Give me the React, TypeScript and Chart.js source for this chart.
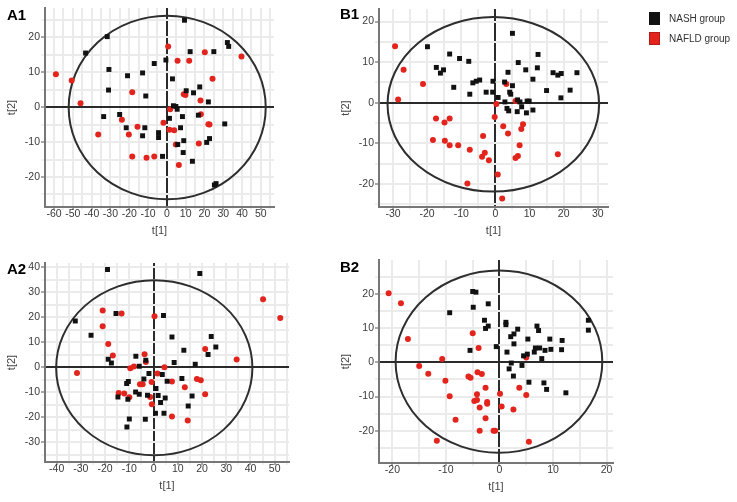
import React, { useEffect, useRef } from 'react';
import { Chart, registerables } from 'chart.js';

Chart.register(...registerables);

const FONT = "'Liberation Sans', Arial, sans-serif";
Chart.defaults.font.family = FONT;

type Pt = [number, number];

// ---------- Panel A1 ----------
const a1Nash: Pt[] = [
  [9.4, 24.9], [-31.7, 20.2], [-43.2, 15.5], [32.2, 18.5], [32.9, 17.4], [12.4, 15.9], [25, 15.9],
  [-0.5, 13.5], [-6.7, 12.5], [-30.8, 10.8], [-20.9, 9.0], [-12.9, 9.8], [3.0, 8.1], [-31, 4.9],
  [-11.2, 3.2], [17.5, 5.8], [10.3, 4.7], [14.2, 4.1], [22.1, 1.5], [3.5, 0.4], [4.8, 0.2],
  [5.5, -0.6], [1.4, -3.2], [8.3, -2.7], [16.8, -2.3], [30.8, -4.8], [-33.6, -2.7], [-25.1, -2.1],
  [-21.6, -5.9], [-11.7, -5.9], [-4.4, -7.3], [-4.4, -8.7], [-12.9, -8.2], [7.3, -5.9], [9.0, -9.6],
  [22.7, -9.0], [21.2, -10.1], [5.8, -10.7], [8.7, -13.0], [-2.3, -14.1], [13.6, -15.5], [26.2, -21.9],
  [25.3, -22.3],
];
const a1Nafld: Pt[] = [
  [-59, 9.4], [-50.6, 7.6], [-45.9, 1.1], [0.7, 17.4], [5.7, 13.3], [11.9, 13.3], [20.2, 15.7],
  [39.7, 14.5], [24.3, 8.1], [-18.4, 4.3], [9.0, 3.7], [9.9, 3.5], [17.9, 1.9], [18.1, -2.0],
  [1.8, -0.6], [-23.9, -3.6], [-15.6, -5.6], [-20.2, -7.8], [-36.5, -7.8], [-1.8, -4.5], [1.4, -6.5],
  [3.9, -6.6], [22.1, -4.9], [22.7, -5.0], [4.8, -10.7], [17.0, -10.4], [-18.4, -14.1], [-10.8, -14.5],
  [-6.7, -14.1], [6.4, -16.6],
];
const a1XRange = [-64.8, 57];
const a1YRange = [-28.6, 28.4];
const a1Ellipse = [0.2, -0.1, 52.4, 26.3];

// ---------- Panel B1 ----------
const b1Nash: Pt[] = [
  [5.0, 17.1], [-19.9, 13.8], [-13.4, 12.0], [-10.5, 10.9], [-7.8, 10.2], [-17.3, 8.7], [-16.1, 7.3],
  [-15.2, 8.1], [12.5, 11.9], [6.7, 9.9], [8.9, 8.1], [12.3, 8.6], [3.7, 7.5], [16.9, 7.4], [18.3, 6.8],
  [19.3, 7.2], [23.9, 7.4], [11.0, 5.8], [-6.6, 4.9], [-5.6, 5.3], [-4.6, 5.6], [-0.7, 5.3], [-12.2, 3.8],
  [-7.5, 2.1], [-2.7, 2.6], [-0.8, 2.6], [2.7, 5.1], [5.0, 4.2], [4.2, 2.6], [4.5, 2.1], [0.8, 1.3],
  [15.0, 3.0], [21.9, 3.1], [19.2, 1.2], [2.8, 0.2], [3.4, -1.4], [3.9, -2.0], [6.5, 0.7], [7.2, 0.2],
  [6.4, -2.2], [7.7, -1.0], [9.3, 0.4], [9.9, 0.4], [9.1, -2.5], [11.0, -1.8],
];
const b1Nafld: Pt[] = [
  [-29.4, 13.9], [-26.9, 8.1], [-21.2, 4.6], [-28.5, 0.8], [3.2, 4.6], [5.9, 0.4], [0.3, -0.3],
  [-0.2, -3.5], [-17.4, -3.9], [-14.9, -4.9], [-13.4, -3.9], [-18.3, -9.2], [-14.8, -9.4], [-13.4, -10.5],
  [-10.9, -10.5], [-7.5, -11.6], [-3.6, -8.2], [-3.1, -12.3], [-3.9, -13.3], [-1.9, -14.2], [2.3, -5.8],
  [3.7, -7.6], [8.1, -5.3], [7.6, -6.5], [7.1, -10.5], [6.6, -13.1], [5.9, -13.6], [18.3, -12.7],
  [0.7, -17.7], [-8.2, -19.9], [2.0, -23.6],
];
const b1XRange = [-34.1, 33];
const b1YRange = [-25.7, 23.1];
const b1Ellipse = [-0.6, -0.4, 31, 21.5];

// ---------- Panel A2 ----------
const a2Nash: Pt[] = [
  [-19.0, 39.1], [19.1, 37.5], [-32.3, 18.5], [-15.5, 21.5], [4.1, 20.7], [-25.8, 12.8], [7.6, 12.1],
  [23.8, 12.3], [25.7, 8.1], [12.5, 6.8], [22.5, 5.1], [-18.7, 3.2], [-17.4, 1.7], [-7.3, 4.4],
  [-5.9, 0.4], [-3.2, 2.8], [8.5, 1.9], [17.2, 1.2], [-1.9, -2.5], [3.6, -2.9], [-11.1, -6.5],
  [-10.4, -5.7], [-4.0, -4.7], [-7.4, -9.9], [-5.9, -10.8], [-2.5, -11.2], [-14.7, -11.9], [-10.6, -12.8],
  [1.0, -8.5], [1.9, -11.3], [4.8, -12.3], [2.9, -14.1], [5.6, -5.6], [11.7, -4.5], [15.9, -11.5],
  [14.3, -15.5], [0.8, -18.4], [4.3, -18.4], [-10.0, -20.7], [-3.4, -20.8], [-11.0, -23.9],
];
const a2Nafld: Pt[] = [
  [45.2, 27.2], [52.3, 19.7], [-21.0, 22.7], [-13.2, 21.5], [0.4, 20.4], [-21.0, 16.4], [-18.7, 9.3],
  [-16.8, 4.7], [-3.7, 5.2], [-3.2, 2.1], [-9.6, -0.4], [-8.1, 0.3], [4.5, 0.0], [21.3, 7.3], [34.3, 3.1],
  [-31.6, -2.3], [-14.4, -10.3], [-12.1, -10.5], [-10.0, -12.0], [-5.6, -6.8], [-4.5, -6.8], [-0.8, -5.9],
  [1.6, -2.5], [-1.4, -11.9], [-0.7, -14.8], [7.6, -5.7], [12.9, -8.0], [17.9, -4.7], [19.5, -5.2],
  [21.3, -10.8], [7.6, -19.7], [14.1, -21.3],
];
const a2XRange = [-44.8, 55.9];
const a2YRange = [-37.9, 41.7];
const a2Ellipse = [0.3, -0.2, 40.5, 35];

// ---------- Panel B2 ----------
const b2Nash: Pt[] = [
  [-5.0, 20.7], [-4.4, 20.5], [-4.9, 16.1], [-2.1, 17.1], [-9.3, 14.5], [-2.8, 12.3], [-2.6, 9.9],
  [-2.1, 10.6], [1.2, 11.7], [1.2, 11.0], [3.4, 9.7], [2.7, 8.3], [2.1, 7.5], [2.7, 5.4], [-0.6, 4.6],
  [1.4, 3.0], [-5.5, 3.5], [7.0, 10.6], [7.3, 9.3], [5.3, 6.8], [4.5, 1.9], [5.2, 2.4], [6.5, 3.0],
  [6.7, 4.2], [7.5, 4.2], [8.5, 3.5], [7.9, 1.1], [9.4, 6.8], [11.7, 6.4], [11.6, 3.7], [9.6, 3.8],
  [16.6, 12.3], [16.6, 9.4], [4.2, -0.9], [1.8, -1.9], [2.2, -0.2], [2.6, -4.0], [5.5, -5.8], [8.3, -6.0],
  [8.8, -7.9], [12.4, -8.9],
];
const b2Nafld: Pt[] = [
  [-20.7, 20.2], [-18.4, 17.3], [-17.1, 6.8], [-10.7, 1.0], [-15.0, -1.1], [-13.3, -3.3], [-10.1, -5.4],
  [-9.3, -9.9], [-8.2, -16.8], [-11.7, -22.9], [-5.0, 8.5], [-3.9, 4.2], [-5.8, -4.1], [-5.4, -4.5],
  [-4.1, -2.9], [-3.3, -3.4], [-2.6, -7.4], [-4.2, -9.3], [-4.7, -11.3], [-4.2, -11.0], [-2.3, -11.6],
  [-2.3, -12.1], [-3.7, -13.2], [-2.6, -16.3], [-3.7, -20.0], [-1.1, -20.0], [-0.8, -20.0], [0.1, -9.2],
  [0.4, -12.9], [2.6, -13.8], [3.7, -7.4], [5.0, -9.5], [5.0, 1.4], [5.5, -23.2],
];
const b2XRange = [-22.5, 21.2];
const b2YRange = [-29.4, 29.9];
const b2Ellipse = [-0.1, 0.2, 19.3, 26.6];

const seriesNames = ['NASH group', 'NAFLD group'];
const seriesColors = ['#111111', '#e3241d'];
const panelLabels = ['A1', 'B1', 'A2', 'B2'];

type Box = { left: number; top: number; width: number; height: number; padTop: number; padRight: number };

const isLabelled = (v: number) => Math.abs(v % 10) < 1e-6;

function Panel(props: {
  nash: Pt[]; nafld: Pt[]; xRange: number[]; yRange: number[]; ellipse: number[]; box: Box;
}) {
  const ref = useRef<HTMLCanvasElement>(null);
  const { nash, nafld, xRange, yRange, ellipse, box } = props;
  useEffect(() => {
    const ellipsePlugin = {
      id: 'ellipseOutline',
      beforeDatasetsDraw(chart: any) {
        const { ctx, chartArea, scales } = chart;
        const xs = scales.x;
        const ys = scales.y;
        const [cx, cy, rx, ry] = ellipse;
        const px = xs.getPixelForValue(cx);
        const py = ys.getPixelForValue(cy);
        const prx = Math.abs(xs.getPixelForValue(cx + rx) - px);
        const pry = Math.abs(ys.getPixelForValue(cy + ry) - py);
        ctx.save();
        ctx.beginPath();
        ctx.rect(chartArea.left, chartArea.top, chartArea.right - chartArea.left, chartArea.bottom - chartArea.top);
        ctx.clip();
        ctx.beginPath();
        ctx.ellipse(px, py, prx, pry, 0, 0, Math.PI * 2);
        ctx.strokeStyle = '#2e2e2e';
        ctx.lineWidth = 2;
        ctx.stroke();
        ctx.restore();
      },
    };
    const gridColor = (c: any) => (c.tick && c.tick.value === 0 ? '#2b2b2b' : '#ebebeb');
    const gridWidth = (c: any) => (c.tick && c.tick.value === 0 ? 2 : 2);
    const tickColor = (c: any) => (c.tick && isLabelled(c.tick.value) ? '#555' : '#e4e4e4');
    const label = (v: any) => (isLabelled(Number(v)) ? String(v) : '');
    const chart = new Chart(ref.current as HTMLCanvasElement, {
      type: 'scatter',
      data: {
        datasets: [
          {
            label: seriesNames[0],
            data: nash.map(([x, y]) => ({ x, y })),
            pointStyle: 'rect',
            pointRadius: 3.5,
            backgroundColor: seriesColors[0],
            borderColor: seriesColors[0],
            borderWidth: 0,
          },
          {
            label: seriesNames[1],
            data: nafld.map(([x, y]) => ({ x, y })),
            pointStyle: 'circle',
            pointRadius: 3,
            backgroundColor: seriesColors[1],
            borderColor: seriesColors[1],
            borderWidth: 0,
          },
        ],
      },
      options: {
        responsive: false,
        animation: false,
        layout: { autoPadding: false, padding: { left: 0, top: box.padTop, right: box.padRight, bottom: 0 } },
        plugins: { legend: { display: false }, tooltip: { enabled: false } },
        scales: {
          x: {
            type: 'linear',
            position: 'bottom',
            min: xRange[0],
            max: xRange[1],
            afterFit: (s: any) => { s.height = 32; },
            ticks: {
              stepSize: 5, includeBounds: false, autoSkip: false, maxRotation: 0, padding: -2,
              color: '#3a3a3a', font: { size: 10.5 }, callback: label,
            },
            grid: { color: gridColor, lineWidth: gridWidth, tickLength: 3, tickColor, tickWidth: 1 },
            border: { color: '#777', width: 2 },
            title: { display: true, text: 't[1]', color: '#444', font: { size: 11 }, padding: { top: 0, bottom: 1 } },
          },
          y: {
            type: 'linear',
            position: 'left',
            min: yRange[0],
            max: yRange[1],
            afterFit: (s: any) => { s.width = 45; },
            ticks: {
              stepSize: 5, includeBounds: false, autoSkip: false, padding: 1,
              color: '#3a3a3a', font: { size: 10.5 }, callback: label,
            },
            grid: { color: gridColor, lineWidth: gridWidth, tickLength: 4, tickColor, tickWidth: 1 },
            border: { color: '#777', width: 2 },
            title: { display: true, text: 't[2]', color: '#444', font: { size: 11 }, padding: { top: 5, bottom: 0 } },
          },
        },
      } as any,
      plugins: [ellipsePlugin],
    });
    return () => chart.destroy();
  }, []);
  return (
    <canvas
      ref={ref}
      width={box.width}
      height={box.height}
      style={{ position: 'absolute', left: box.left, top: box.top, width: box.width, height: box.height }}
    />
  );
}

const labelStyle = (left: number, top: number): React.CSSProperties => ({
  position: 'absolute', left, top, fontFamily: FONT, fontWeight: 'bold', fontSize: 15, lineHeight: '15px', color: '#000',
});

export default function App() {
  return (
    <div style={{ position: 'absolute', left: 0, top: 0, width: 737, height: 502, background: '#fff', overflow: 'hidden' }}>
      <Panel nash={a1Nash} nafld={a1Nafld} xRange={a1XRange} yRange={a1YRange} ellipse={a1Ellipse}
        box={{ left: 0, top: 0, width: 290, height: 239, padTop: 8, padRight: 16 }} />
      <Panel nash={b1Nash} nafld={b1Nafld} xRange={b1XRange} yRange={b1YRange} ellipse={b1Ellipse}
        box={{ left: 334, top: 0, width: 290, height: 239, padTop: 9, padRight: 16 }} />
      <Panel nash={a2Nash} nafld={a2Nafld} xRange={a2XRange} yRange={a2YRange} ellipse={a2Ellipse}
        box={{ left: 0, top: 250, width: 300, height: 244, padTop: 13, padRight: 11 }} />
      <Panel nash={b2Nash} nafld={b2Nafld} xRange={b2XRange} yRange={b2YRange} ellipse={b2Ellipse}
        box={{ left: 334, top: 250, width: 295, height: 245, padTop: 10, padRight: 16 }} />
      <div style={labelStyle(7, 7)}>{panelLabels[0]}</div>
      <div style={labelStyle(340, 6)}>{panelLabels[1]}</div>
      <div style={labelStyle(7, 261)}>{panelLabels[2]}</div>
      <div style={labelStyle(340, 259)}>{panelLabels[3]}</div>
      {seriesNames.map((name, i) => (
        <React.Fragment key={name}>
          <div style={{ position: 'absolute', left: 649, top: 12 + i * 20, width: 11, height: 13, background: seriesColors[i], boxSizing: 'border-box', border: i === 1 ? '1px solid #b51a16' : 'none' }} />
          <div style={{ position: 'absolute', left: 669, top: 12 + i * 20, fontFamily: FONT, fontSize: 10, lineHeight: '13px', color: '#333', whiteSpace: 'nowrap' }}>{name}</div>
        </React.Fragment>
      ))}
    </div>
  );
}
